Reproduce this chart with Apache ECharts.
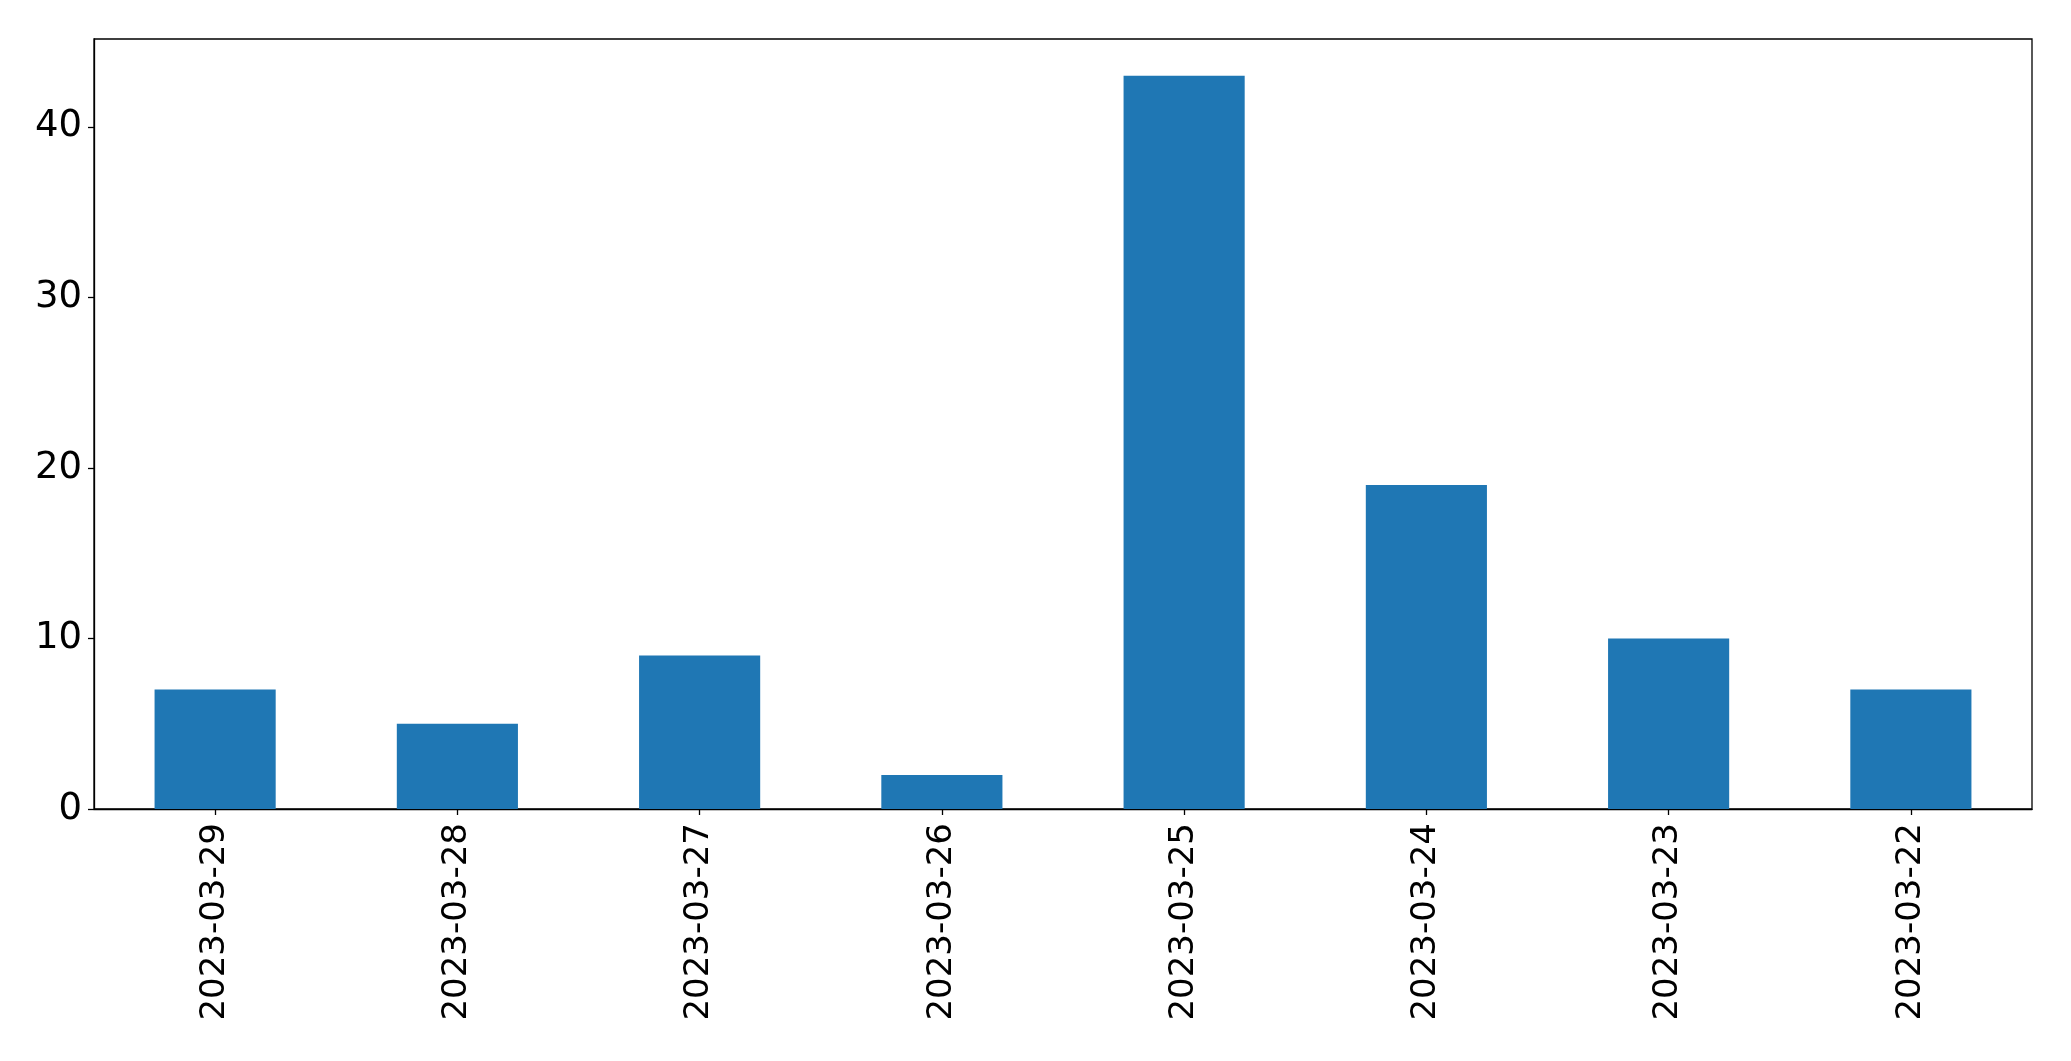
<!DOCTYPE html>
<html>
<head>
<meta charset="utf-8">
<script src="https://cdn.jsdelivr.net/npm/echarts@6/dist/echarts.min.js"></script>
<style>
html,body{margin:0;padding:0;background:#fff;}
#chart{width:2071px;height:1061px;}
</style>
</head>
<body>
<div id="chart"></div>
<script>
const categories = ["2023-03-29","2023-03-28","2023-03-27","2023-03-26","2023-03-25","2023-03-24","2023-03-23","2023-03-22"];
const values = [7, 5, 9, 2, 43, 19, 10, 7];
const yTicks = [0, 10, 20, 30, 40];

const chart = echarts.init(document.getElementById('chart'), null, {renderer: 'canvas'});
const font = 'DejaVu Sans';
chart.setOption({
  animation: false,
  backgroundColor: '#fff',
  grid: {left: 94, right: 39, top: 39, bottom: 252, show: true, borderColor: '#000', borderWidth: 1.3, backgroundColor: 'transparent'},
  xAxis: {
    type: 'category',
    data: categories,
    boundaryGap: true,
    axisLine: {show: true, lineStyle: {color: '#000', width: 1.3}},
    axisTick: {show: true, alignWithLabel: true, length: 6, lineStyle: {color: '#000', width: 1.3}},
    axisLabel: {rotate: 90, interval: 0, margin: 14, fontFamily: font, fontSize: 34, color: '#000'},
    splitLine: {show: false}
  },
  yAxis: {
    type: 'value',
    min: 0,
    max: 45.15,
    interval: 10,
    axisLine: {show: true, lineStyle: {color: '#000', width: 1.3}},
    axisTick: {show: true, length: 6, lineStyle: {color: '#000', width: 1.3}, customValues: yTicks},
    axisLabel: {fontFamily: font, fontSize: 37, color: '#000', margin: 12, customValues: yTicks},
    splitLine: {show: false}
  },
  series: [{
    type: 'bar',
    data: values,
    barWidth: '50%',
    itemStyle: {color: '#1f77b4'}
  }]
});
</script>
</body>
</html>
